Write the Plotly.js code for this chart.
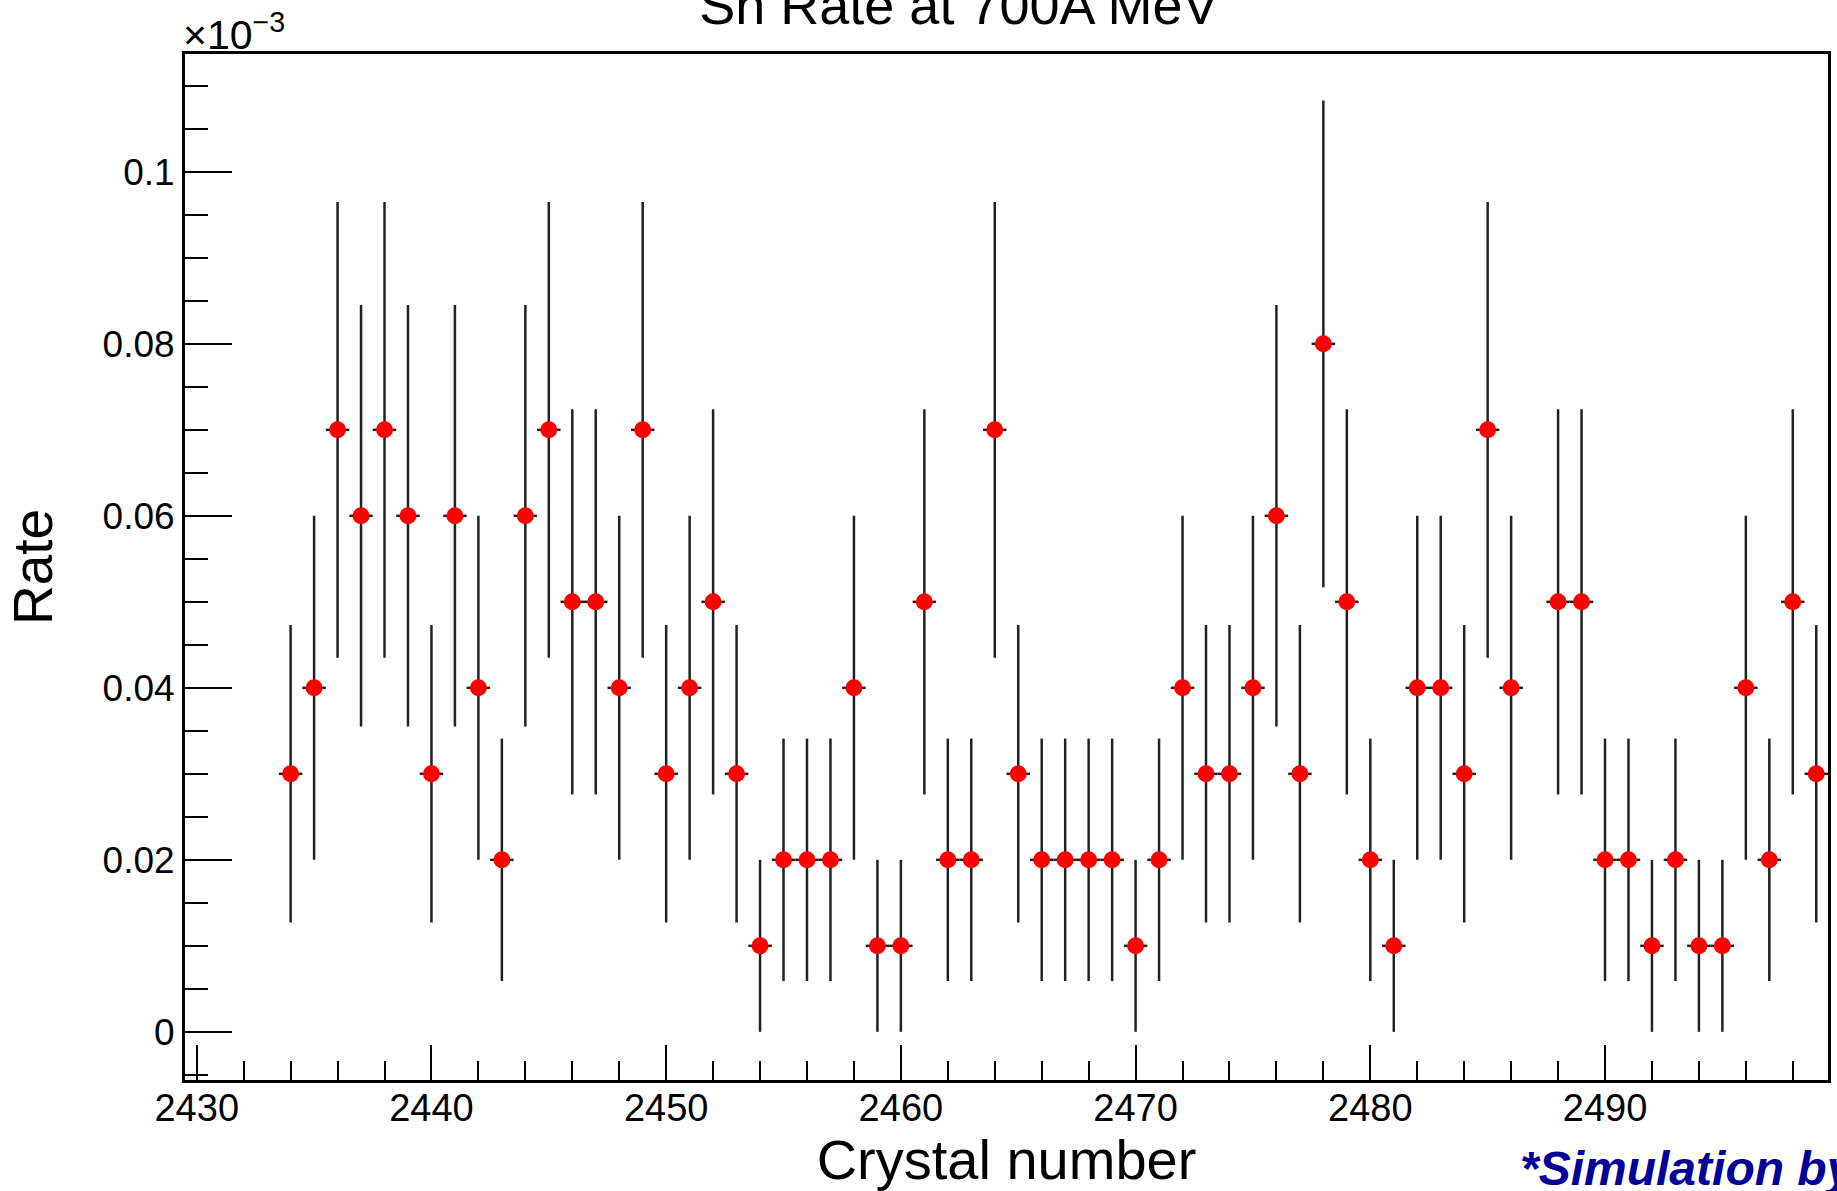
<!DOCTYPE html>
<html>
<head>
<meta charset="utf-8">
<script src="https://cdn.plot.ly/plotly-3.0.1.min.js"></script>
<style>
  html, body { margin: 0; padding: 0; background: #ffffff; }
  #chart { width: 1837px; height: 1191px; }
</style>
</head>
<body>
<div id="chart"></div>
<script>
// Crystal numbers (2487 has no entry)
const crystal = [
  2434, 2435, 2436, 2437, 2438, 2439, 2440, 2441, 2442, 2443,
  2444, 2445, 2446, 2447, 2448, 2449, 2450, 2451, 2452, 2453,
  2454, 2455, 2456, 2457, 2458, 2459, 2460, 2461, 2462, 2463,
  2464, 2465, 2466, 2467, 2468, 2469, 2470, 2471, 2472, 2473,
  2474, 2475, 2476, 2477, 2478, 2479, 2480, 2481, 2482, 2483,
  2484, 2485, 2486,
  2488, 2489, 2490, 2491, 2492, 2493, 2494, 2495, 2496, 2497, 2498, 2499
];
// Rate, in units of 1e-3
const rate = [
  0.03, 0.04, 0.07, 0.06, 0.07, 0.06, 0.03, 0.06, 0.04, 0.02,
  0.06, 0.07, 0.05, 0.05, 0.04, 0.07, 0.03, 0.04, 0.05, 0.03,
  0.01, 0.02, 0.02, 0.02, 0.04, 0.01, 0.01, 0.05, 0.02, 0.02,
  0.07, 0.03, 0.02, 0.02, 0.02, 0.02, 0.01, 0.02, 0.04, 0.03,
  0.03, 0.04, 0.06, 0.03, 0.08, 0.05, 0.02, 0.01, 0.04, 0.04,
  0.03, 0.07, 0.04,
  0.05, 0.05, 0.02, 0.02, 0.01, 0.02, 0.01, 0.01, 0.04, 0.02, 0.05, 0.03
];
// Vertical error (half length), in units of 1e-3
const rateErr = [
  0.0173, 0.0200, 0.0265, 0.0245, 0.0265, 0.0245, 0.0173, 0.0245, 0.0200, 0.0141,
  0.0245, 0.0265, 0.0224, 0.0224, 0.0200, 0.0265, 0.0173, 0.0200, 0.0224, 0.0173,
  0.0100, 0.0141, 0.0141, 0.0141, 0.0200, 0.0100, 0.0100, 0.0224, 0.0141, 0.0141,
  0.0265, 0.0173, 0.0141, 0.0141, 0.0141, 0.0141, 0.0100, 0.0141, 0.0200, 0.0173,
  0.0173, 0.0200, 0.0245, 0.0173, 0.0283, 0.0224, 0.0141, 0.0100, 0.0200, 0.0200,
  0.0173, 0.0265, 0.0200,
  0.0224, 0.0224, 0.0141, 0.0141, 0.0100, 0.0141, 0.0100, 0.0100, 0.0200, 0.0141, 0.0224, 0.0173
];
// Half bin width (horizontal error)
const binHalfWidth = 0.5;

const FONT = '"Liberation Sans", Arial, Helvetica, sans-serif';

const trace = {
  type: 'scatter',
  mode: 'markers',
  x: crystal,
  y: rate,
  marker: { color: '#ff0000', size: 17, symbol: 'circle', line: { width: 0 } },
  error_y: { type: 'data', array: rateErr, visible: true, color: '#222222', thickness: 2.5, width: 0 },
  error_x: { type: 'constant', value: binHalfWidth, visible: true, color: '#222222', thickness: 2.5, width: 0 },
  hoverinfo: 'x+y'
};

const layout = {
  width: 1837,
  height: 1191,
  paper_bgcolor: '#ffffff',
  plot_bgcolor: '#ffffff',
  showlegend: false,
  margin: { l: 185, r: 9, t: 54, b: 111, pad: 0 },
  font: { family: FONT, color: '#000000' },
  title: {
    text: 'Sn Rate at 700A MeV',
    font: { family: FONT, size: 54, color: '#000000' },
    x: 0.522, xref: 'container', xanchor: 'center',
    y: 0.996, yref: 'container', yanchor: 'middle'
  },
  xaxis: {
    range: [2429.5, 2499.5],
    tick0: 2430, dtick: 10,
    ticks: 'inside', ticklen: 35, tickwidth: 2, tickcolor: '#000000',
    minor: { tick0: 2430, dtick: 2, ticks: 'inside', ticklen: 19, tickwidth: 2, tickcolor: '#000000', showgrid: false },
    showgrid: false, zeroline: false,
    showline: true, linecolor: '#000000', linewidth: 3, mirror: true,
    tickfont: { family: FONT, size: 38, color: '#000000' },
    ticklabelstandoff: -8,
    title: { text: 'Crystal number', font: { family: FONT, size: 56, color: '#000000' }, standoff: 8 },
    automargin: false
  },
  yaxis: {
    range: [-0.0056, 0.1137],
    tick0: 0, dtick: 0.02,
    ticks: 'inside', ticklen: 47, tickwidth: 2, tickcolor: '#000000',
    minor: { tick0: 0, dtick: 0.005, ticks: 'inside', ticklen: 23, tickwidth: 2, tickcolor: '#000000', showgrid: false },
    showgrid: false, zeroline: false,
    showline: true, linecolor: '#000000', linewidth: 3, mirror: true,
    tickfont: { family: FONT, size: 37, color: '#000000' },
    ticklabelstandoff: 0,
    title: { text: 'Rate', font: { family: FONT, size: 55, color: '#000000' }, standoff: 33 },
    automargin: false
  },
  annotations: [
    {
      text: '×10<sup>−3</sup>',
      xref: 'paper', yref: 'paper',
      x: 0, y: 1, xanchor: 'left', yanchor: 'bottom', yshift: -6, xshift: -4,
      showarrow: false,
      font: { family: FONT, size: 41, color: '#000000' }
    },
    {
      text: '<b><i>*Simulation by</i></b>',
      xref: 'paper', yref: 'paper',
      x: (1518 - 185) / (1837 - 185 - 9), y: 0, xanchor: 'left', yanchor: 'top', yshift: -60,
      showarrow: false,
      font: { family: FONT, size: 48, color: '#000099' }
    }
  ]
};

Plotly.newPlot('chart', [trace], layout, { displayModeBar: false, staticPlot: true });
</script>
</body>
</html>
